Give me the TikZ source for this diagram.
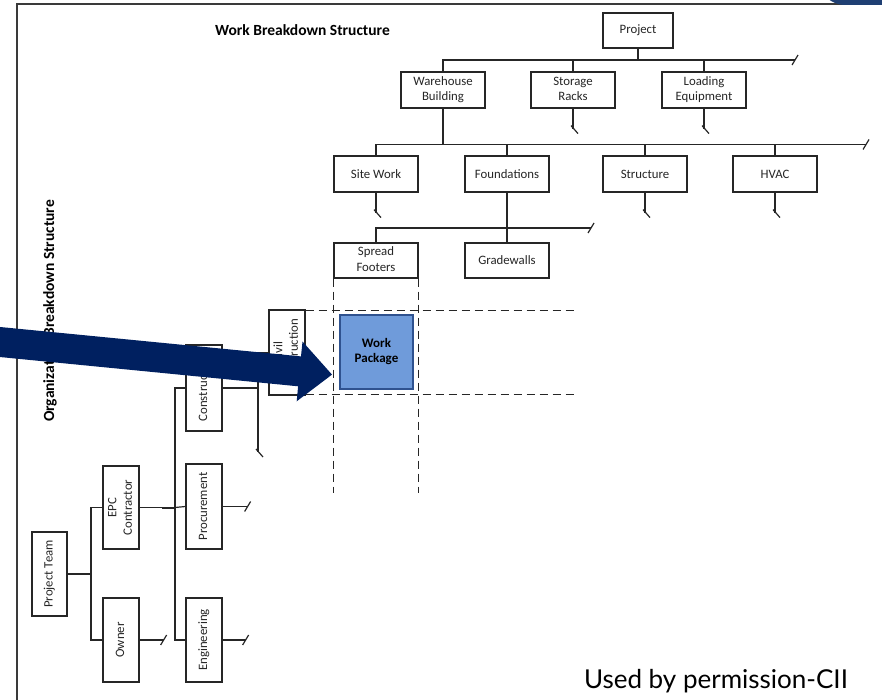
\documentclass[tikz,border=0pt]{standalone}
\usepackage{fontspec}
\setmainfont{Carlito}
\newfontfamily\latofont{Lato}
\usepackage{graphicx}
\usetikzlibrary{calc}
\definecolor{navyarrow}{HTML}{002060}
\definecolor{wpfill}{HTML}{6F9BDA}
\definecolor{wpdraw}{HTML}{2F528F}
\definecolor{tabblue}{HTML}{1F3F73}
\definecolor{framegray}{HTML}{3A3A3A}
\definecolor{inkc}{HTML}{262626}
\newcommand{\vlab}[1]{\rotatebox{90}{\begin{tabular}{@{}c@{}}#1\end{tabular}}}
\newcommand{\hlab}[1]{\begin{tabular}{@{}c@{}}#1\end{tabular}}
\begin{document}
\begin{tikzpicture}[x=1pt,y=-1pt,
  box/.style={draw=inkc, line width=1.2pt, fill=white, inner sep=0pt, text=inkc, font=\fontsize{12.8}{15.5}\selectfont},
  hbox/.style={box, minimum width=84pt, minimum height=36pt},
  vbox/.style={box, minimum width=36pt, minimum height=85pt},
  conn/.style={draw=inkc, line width=1.2pt},
  dashline/.style={draw=inkc, line width=1.1pt, dash pattern=on 8pt off 5pt},
  titlefont/.style={font=\bfseries\fontsize{15.5}{18}\selectfont, text=black, inner sep=0pt}
]
\useasboundingbox (0,0) rectangle (882,700);
% frame
\draw[framegray, line width=2pt] (17,702) -- (17,4) -- (884,4);
\fill[tabblue] (828,-1) .. controls (834,3) and (838,5) .. (846,5) -- (884,5) -- (884,-1) -- cycle;

% titles
\node[titlefont] (wbstitle) at (302.5,30) {Work Breakdown Structure};
\node[titlefont, rotate=90] (obstitle) at (50,311) {Organization Breakdown Structure};

% WBS boxes
\node[hbox, minimum width=70pt, minimum height=35pt] (proj) at (638,30.5) {Project};
\node[hbox] (wh) at (443,90) {\hlab{Warehouse\\Building}};
\node[hbox] (sr) at (573,90) {\hlab{Storage\\Racks}};
\node[hbox] (le) at (704,90) {\hlab{Loading\\Equipment}};
\node[hbox] (sw) at (376,174) {Site Work};
\node[hbox] (fd) at (507,174) {Foundations};
\node[hbox] (st) at (645,174) {Structure};
\node[hbox] (hv) at (775,174) {HVAC};
\node[hbox, minimum height=35pt] (sf) at (376,260.5) {\hlab{Spread\\Footers}};
\node[hbox, minimum height=35pt] (gw) at (507,260.5) {Gradewalls};

% WBS connectors
\coordinate (b1) at (0,60);
\coordinate (b1end) at (795,60);
\draw[conn] (wh.north) -- (wh.north |- b1) -- (b1end);
\draw[conn] (proj.south) -- (proj.south |- b1);
\draw[conn] (sr.north) -- (sr.north |- b1);
\draw[conn] (le.north) -- (le.north |- b1);
\draw[conn] (b1end) ++(-3,5) -- ++(6,-10);

\coordinate (b2) at (0,144.5);
\coordinate (b2end) at (866,144.5);
\draw[conn] (wh.south) -- (wh.south |- b2);
\draw[conn] (sw.north) -- (sw.north |- b2) -- (b2end);
\draw[conn] (fd.north) -- (fd.north |- b2);
\draw[conn] (st.north) -- (st.north |- b2);
\draw[conn] (hv.north) -- (hv.north |- b2);
\draw[conn] (b2end) ++(-3,5) -- ++(6,-10);

\draw[conn] (sr.south) -- ++(0,20) coordinate (srend);
\draw[conn] (le.south) -- ++(0,20) coordinate (leend);
\draw[conn] (sw.south) -- ++(0,20) coordinate (swend);
\draw[conn] (st.south) -- ++(0,20) coordinate (stend);
\draw[conn] (hv.south) -- ++(0,20) coordinate (hvend);
\foreach \e in {srend,leend,swend,stend,hvend}
  \draw[conn] (\e) ++(-2,-3) -- ++(7,8);

\draw[conn] (fd.south) -- (gw.north);
\coordinate (b3) at (0,228);
\coordinate (b3end) at (591,228);
\draw[conn] (sf.north) -- (sf.north |- b3) -- (b3end);
\draw[conn] (b3end) ++(-3,5) -- ++(6,-10);

% OBS boxes
\node[vbox] (civ) at (287,352.5) {\vlab{Civil\\Construction}};
\node[vbox, minimum height=86pt] (con) at (204,388) {\vlab{Construction}};
\node[vbox] (pro) at (204,506.5) {\vlab{Procurement}};
\node[vbox, minimum height=84pt] (eng) at (204,640) {\vlab{Engineering}};
\node[vbox, minimum height=83pt] (epc) at (121,507.5) {\vlab{EPC\\Contractor}};
\node[vbox, minimum height=84pt] (own) at (121,640) {\vlab{Owner}};
\node[vbox, minimum width=35pt, minimum height=84pt] (pt) at (49.5,574) {\vlab{Project Team}};

% dashed grid
\draw[dashline] (sf.south west) -- ++(0,214);
\draw[dashline] (sf.south east) -- ++(0,214);
\draw[dashline] ([yshift=-1pt]civ.north east) -- ++(270,0);
\draw[dashline] ([yshift=1pt]civ.south east) -- ++(270,0);

% work package
\node[box, fill=wpfill, draw=wpdraw, line width=1.5pt, minimum width=73pt, minimum height=74pt,
      font=\bfseries\fontsize{13}{15.5}\selectfont, text=black] (wp) at (376.5,352) {\hlab{Work\\Package}};

% OBS connectors
\coordinate (j1) at (91,574);
\draw[conn] (pt.east) -- (j1);
\draw[conn] (epc.west) -| (j1);
\draw[conn] (own.west) -| (j1);
\coordinate (j2) at (175,507.5);
\draw[conn] (epc.east) -- (j2);
\draw[conn, line width=2pt] ([xshift=-13pt]j2) -- (j2);
\draw[conn] (con.west) -| (j2);
\draw[conn] (eng.west) -| (j2);
\draw[conn] (pro.west) -- (j2);
\draw[conn] (own.east) -- ++(24,0) coordinate (owend);
\draw[conn] (pro.east) -- ++(25,0) coordinate (proend);
\draw[conn] (eng.east) -- ++(23,0) coordinate (engend);
\foreach \e in {owend,proend,engend}
  \draw[conn] (\e) ++(-3,5) -- ++(6,-10);
\coordinate (j3) at (258,388);
\draw[conn] (con.east) -- (j3);
\draw[conn] (civ.west) -| (j3);
\draw[conn] (j3) -- ++(0,64) coordinate (j3end);
\draw[conn] (j3end) ++(-2,-3) -- ++(7,8);

% big arrow
\fill[navyarrow] (-4,326.6) -- (301.0,356.4) -- (302.5,341.5) -- (332.0,374.6)
  -- (296.7,401.3) -- (298.1,386.3) -- (-6.4,356.4) -- cycle;

% credit
\node[font=\latofont\fontsize{26}{30}\selectfont, anchor=base, inner sep=0pt, text=black] (perm) at (716,688) {Used by permission-CII};
\end{tikzpicture}
\end{document}
